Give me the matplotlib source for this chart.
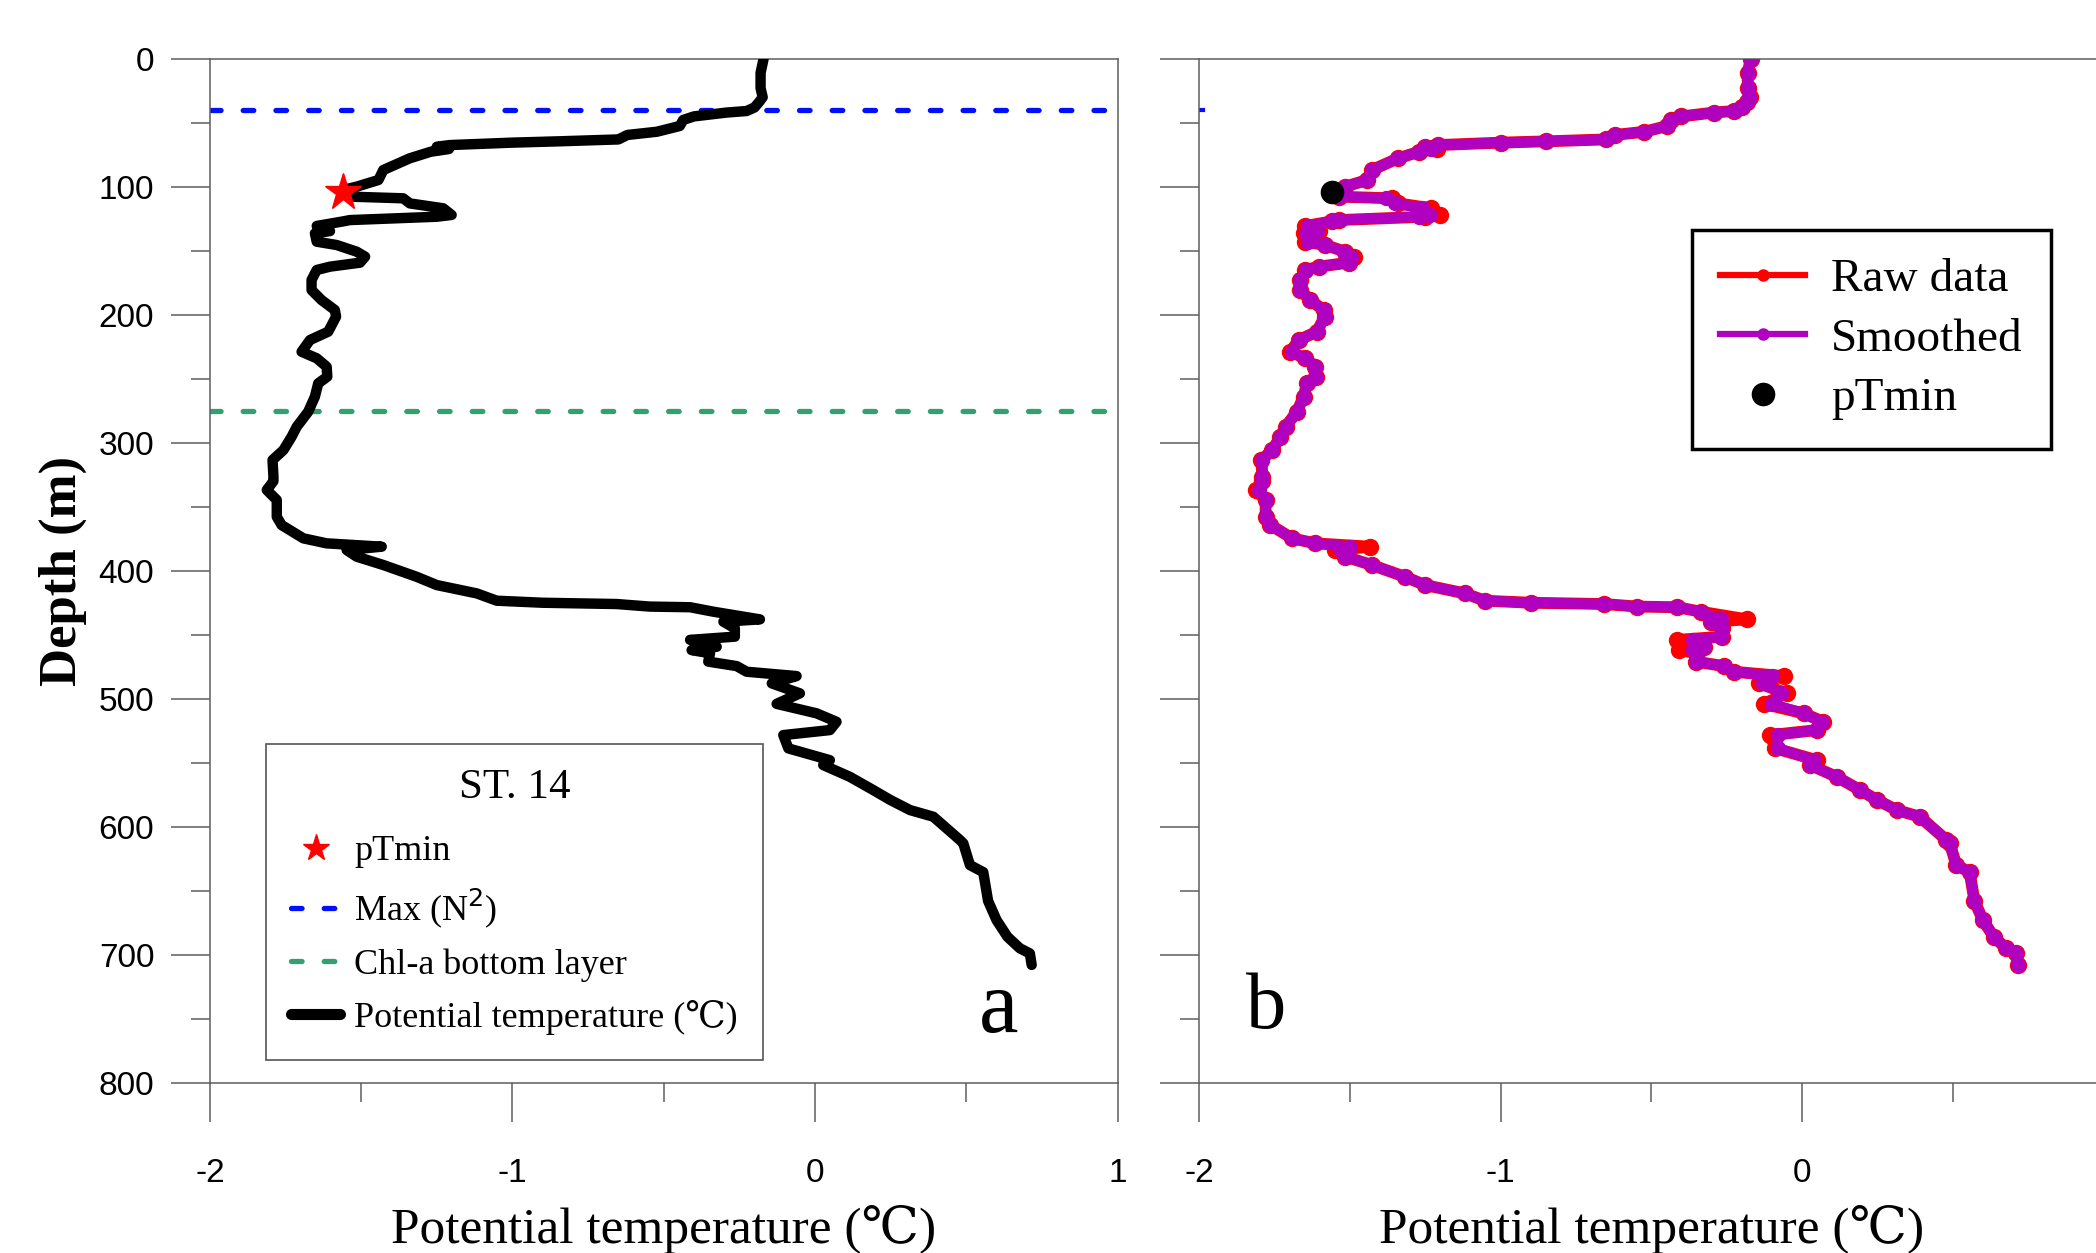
import matplotlib
matplotlib.use("Agg")
import matplotlib.pyplot as plt
from matplotlib.lines import Line2D
from matplotlib.ticker import MultipleLocator

plt.rcParams['font.family'] = ['Liberation Serif', 'DejaVu Serif']
plt.rcParams['axes.unicode_minus'] = False

# ---- data (ST. 14) ----
depth = [0, 11, 23, 30, 33.5, 38, 40.8, 42, 45, 47.8, 52.5, 57, 59.5, 63, 64.5,
         65.5, 67.4, 68.7, 70.5, 72.6, 77.8, 86.9, 94.7, 99.9, 102.5, 107.7, 109,
         113, 116.8, 122, 123.4, 126, 127, 130.6, 134.6, 136.4, 142.9, 145.5,
         150.7, 154.6, 159.3, 162.4, 165, 172.8, 180.7, 188.5, 196.3, 201.5,
         213.2, 219.7, 228.9, 234, 240.6, 248.4, 253.6, 264, 275.7, 287.5, 295.3,
         305.7, 313.5, 326.5, 330, 336.9, 344.7, 357.8, 364.3, 374.7, 378.6,
         381.2, 383.8, 389, 395.5, 404.7, 411.2, 417.7, 423.4, 425, 426, 428,
         428.5, 432, 438, 439.8, 445, 451.5, 454, 459.4, 462, 464.5, 471, 474.5,
         478.9, 482.3, 488, 495.8, 504, 511.4, 518, 524.5, 528.4, 538.8, 548,
         551.8, 561, 571.3, 579, 587, 592.2, 610.4, 613, 630, 635.5, 658, 673,
         686, 695, 699, 708]

temp_raw = [-0.17, -0.18, -0.18, -0.173, -0.184, -0.20, -0.226, -0.292, -0.40,
            -0.436, -0.447, -0.523, -0.62, -0.65, -0.85, -1.0, -1.207, -1.25,
            -1.21, -1.27, -1.34, -1.427, -1.443, -1.515, -1.561, -1.537, -1.361,
            -1.339, -1.229, -1.201, -1.25, -1.537, -1.559, -1.647, -1.603,
            -1.653, -1.647, -1.581, -1.515, -1.487, -1.504, -1.603, -1.647,
            -1.664, -1.664, -1.631, -1.587, -1.583, -1.609, -1.669, -1.697,
            -1.647, -1.614, -1.612, -1.642, -1.653, -1.675, -1.713, -1.730,
            -1.757, -1.793, -1.790, -1.79, -1.812, -1.779, -1.779, -1.763,
            -1.691, -1.614, -1.432, -1.548, -1.515, -1.427, -1.317, -1.25,
            -1.118, -1.052, -0.90, -0.656, -0.546, -0.413, -0.336, -0.182,
            -0.303, -0.265, -0.265, -0.413, -0.325, -0.408, -0.347, -0.353,
            -0.259, -0.226, -0.061, -0.143, -0.050, -0.127, 0.005, 0.071, 0.049,
            -0.105, -0.088, 0.049, 0.027, 0.115, 0.192, 0.248, 0.314, 0.391,
            0.479, 0.49, 0.512, 0.556, 0.572, 0.600, 0.636, 0.677, 0.710, 0.716]

temp_smooth = [-0.17, -0.18, -0.18, -0.175, -0.184, -0.20, -0.226, -0.292, -0.40,
               -0.436, -0.447, -0.523, -0.62, -0.65, -0.85, -1.0, -1.207, -1.25,
               -1.23, -1.27, -1.34, -1.427, -1.443, -1.515, -1.561, -1.537, -1.38,
               -1.35, -1.26, -1.235, -1.27, -1.537, -1.559, -1.64, -1.61,
               -1.645, -1.64, -1.581, -1.52, -1.495, -1.504, -1.60, -1.645,
               -1.664, -1.664, -1.631, -1.587, -1.583, -1.609, -1.669, -1.69,
               -1.647, -1.614, -1.612, -1.642, -1.653, -1.675, -1.713, -1.730,
               -1.757, -1.79, -1.79, -1.79, -1.80, -1.779, -1.779, -1.763,
               -1.691, -1.614, -1.50, -1.53, -1.515, -1.427, -1.317, -1.25,
               -1.118, -1.052, -0.90, -0.656, -0.546, -0.413, -0.336, -0.27,
               -0.303, -0.265, -0.27, -0.36, -0.325, -0.36, -0.347, -0.353,
               -0.259, -0.226, -0.10, -0.13, -0.07, -0.10, 0.005, 0.065, 0.045,
               -0.08, -0.08, 0.04, 0.027, 0.115, 0.192, 0.248, 0.314, 0.391,
               0.479, 0.49, 0.512, 0.556, 0.572, 0.600, 0.636, 0.677, 0.710, 0.716]

ptmin_temp = -1.56
ptmin_depth = 104
maxn2_depth = 40
chla_depth = 275

x_ticks = [-2, -1, 0, 1]
x_labels_a = ['-2', '-1', '0', '1']
x_labels_b = ['-2', '-1', '0', '']   # "1" falls outside the cropped figure
y_ticks = [0, 100, 200, 300, 400, 500, 600, 700, 800]

# ---- figure ----
W, H = 2096, 1253
fig = plt.figure(figsize=(W / 100, H / 100), dpi=100)


def px_box(left, top, right, bottom):
    return [left / W, 1 - bottom / H, (right - left) / W, (bottom - top) / H]


ax_a = fig.add_axes(px_box(209.9, 58.8, 1117.6, 1082.7))
ax_b = fig.add_axes(px_box(1199, 58.8, 2103.5, 1082.7))

spine_col = '#5e5e5e'
for ax, xlabs in ((ax_a, x_labels_a), (ax_b, x_labels_b)):
    ax.set_xlim(-2, 1)
    ax.set_ylim(800, 0)
    ax.set_xticks(x_ticks)
    ax.set_xticklabels(xlabs)
    ax.set_yticks(y_ticks)
    ax.xaxis.set_minor_locator(MultipleLocator(0.5))
    ax.yaxis.set_minor_locator(MultipleLocator(50))
    ax.tick_params(which='major', direction='out', length=28, width=1.1,
                   color=spine_col, labelsize=24)
    ax.tick_params(which='minor', direction='out', length=14, width=1.1,
                   color=spine_col)
    ax.tick_params(axis='x', which='major', pad=26)
    ax.tick_params(axis='y', which='major', pad=12)
    for lab in ax.get_xticklabels() + ax.get_yticklabels():
        lab.set_family(['Liberation Sans', 'DejaVu Sans'])
    for s in ax.spines.values():
        s.set_color(spine_col)
        s.set_linewidth(1.1)
    ax.set_xlabel('Potential temperature (\u2103)', fontsize=37)
    ax.xaxis.set_label_coords(0.5, -0.119)

ax_b.tick_params(axis='y', labelleft=False)

# ---- panel a ----
ax_a.axhline(maxn2_depth, color='#0010ff', lw=3.8, dashes=(2, 4.2),
             dash_capstyle='round', zorder=2)
ax_a.axhline(chla_depth, color='#35a06f', lw=3.8, dashes=(2, 4.2),
             dash_capstyle='round', zorder=2)
ax_a.plot(temp_raw, depth, color='black', lw=7.5, solid_joinstyle='round',
          solid_capstyle='round', zorder=3)
ax_a.plot([ptmin_temp], [ptmin_depth], ls='none', marker='*', color='red',
          ms=28, zorder=4)

ax_a.set_ylabel('Depth (m)', fontsize=38, fontweight='bold')
ax_a.yaxis.set_label_coords(-0.135, 0.5)

handles_a = [
    Line2D([], [], ls='none', marker='*', color='red', ms=20),
    Line2D([], [], color='#0010ff', lw=3.8, dashes=(2, 4.2), dash_capstyle='round'),
    Line2D([], [], color='#35a06f', lw=3.8, dashes=(2, 4.2), dash_capstyle='round'),
    Line2D([], [], color='black', lw=8, solid_capstyle='round'),
]
labels_a = ['pTmin', 'Max (N$^2$)', 'Chl-a bottom layer',
            'Potential temperature (\u2103)']
leg_a = ax_a.legend(handles_a, labels_a, title='ST. 14', loc='lower left',
                    bbox_to_anchor=(0.0618, 0.0222), borderaxespad=0,
                    fontsize=26, title_fontsize=31, fancybox=False,
                    edgecolor='#555555', framealpha=1, handlelength=1.35,
                    handletextpad=0.4, labelspacing=0.5, borderpad=0.7)
leg_a.get_frame().set_linewidth(1.2)
leg_a._legend_box.sep = 20

ax_a.text(0.54, 760, 'a', fontsize=64)

# ---- panel b ----
ax_b.axhline(maxn2_depth, xmax=0.004, color='#0010ff', lw=3, zorder=2)
ax_b.plot(temp_raw, depth, color='red', lw=8.5, marker='o', ms=11.5,
          solid_joinstyle='round', zorder=2)
ax_b.plot(temp_smooth, depth, color='#b000c0', lw=7.5, marker='o', ms=10,
          solid_joinstyle='round', zorder=3)
ax_b.plot([ptmin_temp], [ptmin_depth], ls='none', marker='o', color='black',
          ms=16, zorder=4)

handles_b = [
    Line2D([], [], color='red', lw=4.5, marker='o', ms=8),
    Line2D([], [], color='#b000c0', lw=4.5, marker='o', ms=8),
    Line2D([], [], ls='none', marker='o', color='black', ms=16),
]
labels_b = ['Raw data', 'Smoothed', 'pTmin']
leg_b = ax_b.legend(handles_b, labels_b, loc='upper left',
                    bbox_to_anchor=(0.545, 0.833), borderaxespad=0,
                    fontsize=34, fancybox=False, edgecolor='black',
                    framealpha=1, handlelength=1.8, handletextpad=0.55,
                    labelspacing=0.35, borderpad=0.6)
leg_b.get_frame().set_linewidth(2.5)

ax_b.text(-1.844, 757, 'b', fontsize=58)

fig.savefig('out.png', dpi=100)
